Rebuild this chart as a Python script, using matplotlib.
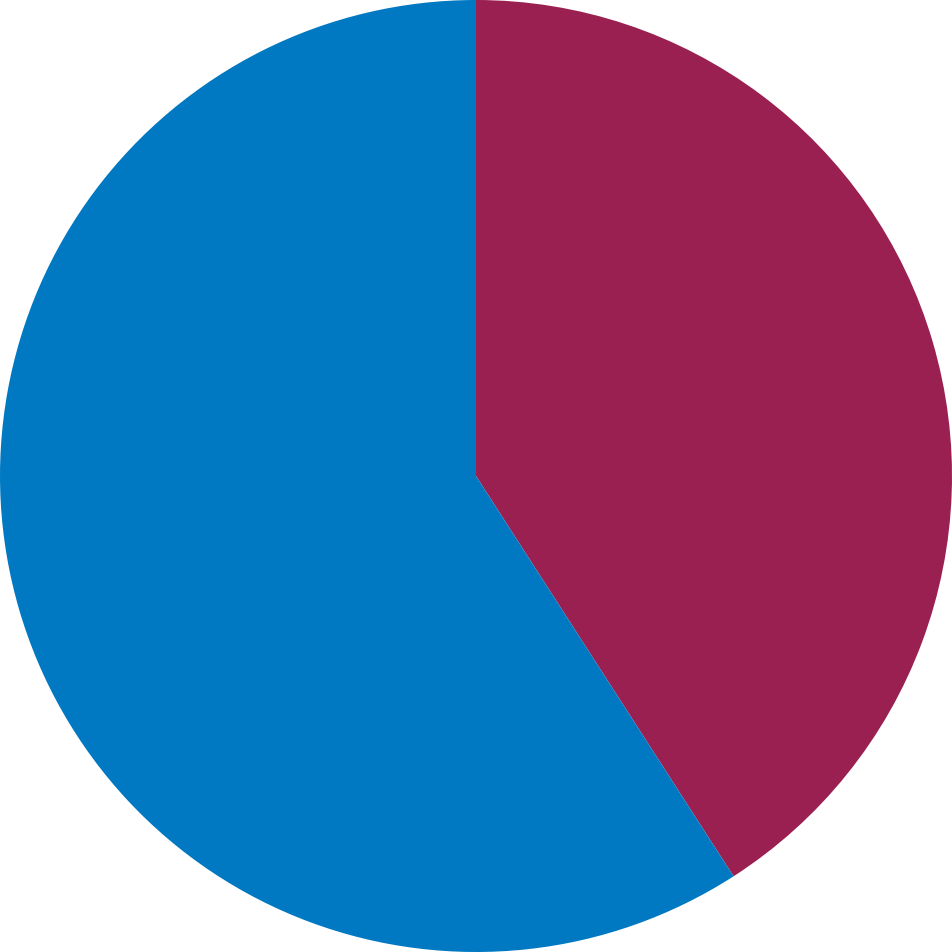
import matplotlib
matplotlib.use('Agg')
import matplotlib.pyplot as plt

# slice shares, clockwise from 12 o'clock
labels = ['A', 'B']
values = [40.9, 59.1]
colors = ['#9A2052', '#0079C2']

fig = plt.figure(figsize=(9.52, 9.52), dpi=100)
ax = fig.add_axes([0, 0, 1, 1])
ax.pie(values, colors=colors, startangle=90, counterclock=False,
       radius=1.0, wedgeprops={'linewidth': 0})
ax.set_xlim(-1.0, 1.0)
ax.set_ylim(-1.0, 1.0)
ax.set_aspect('equal')
ax.axis('off')

fig.savefig('out.png', dpi=100, facecolor='white')
